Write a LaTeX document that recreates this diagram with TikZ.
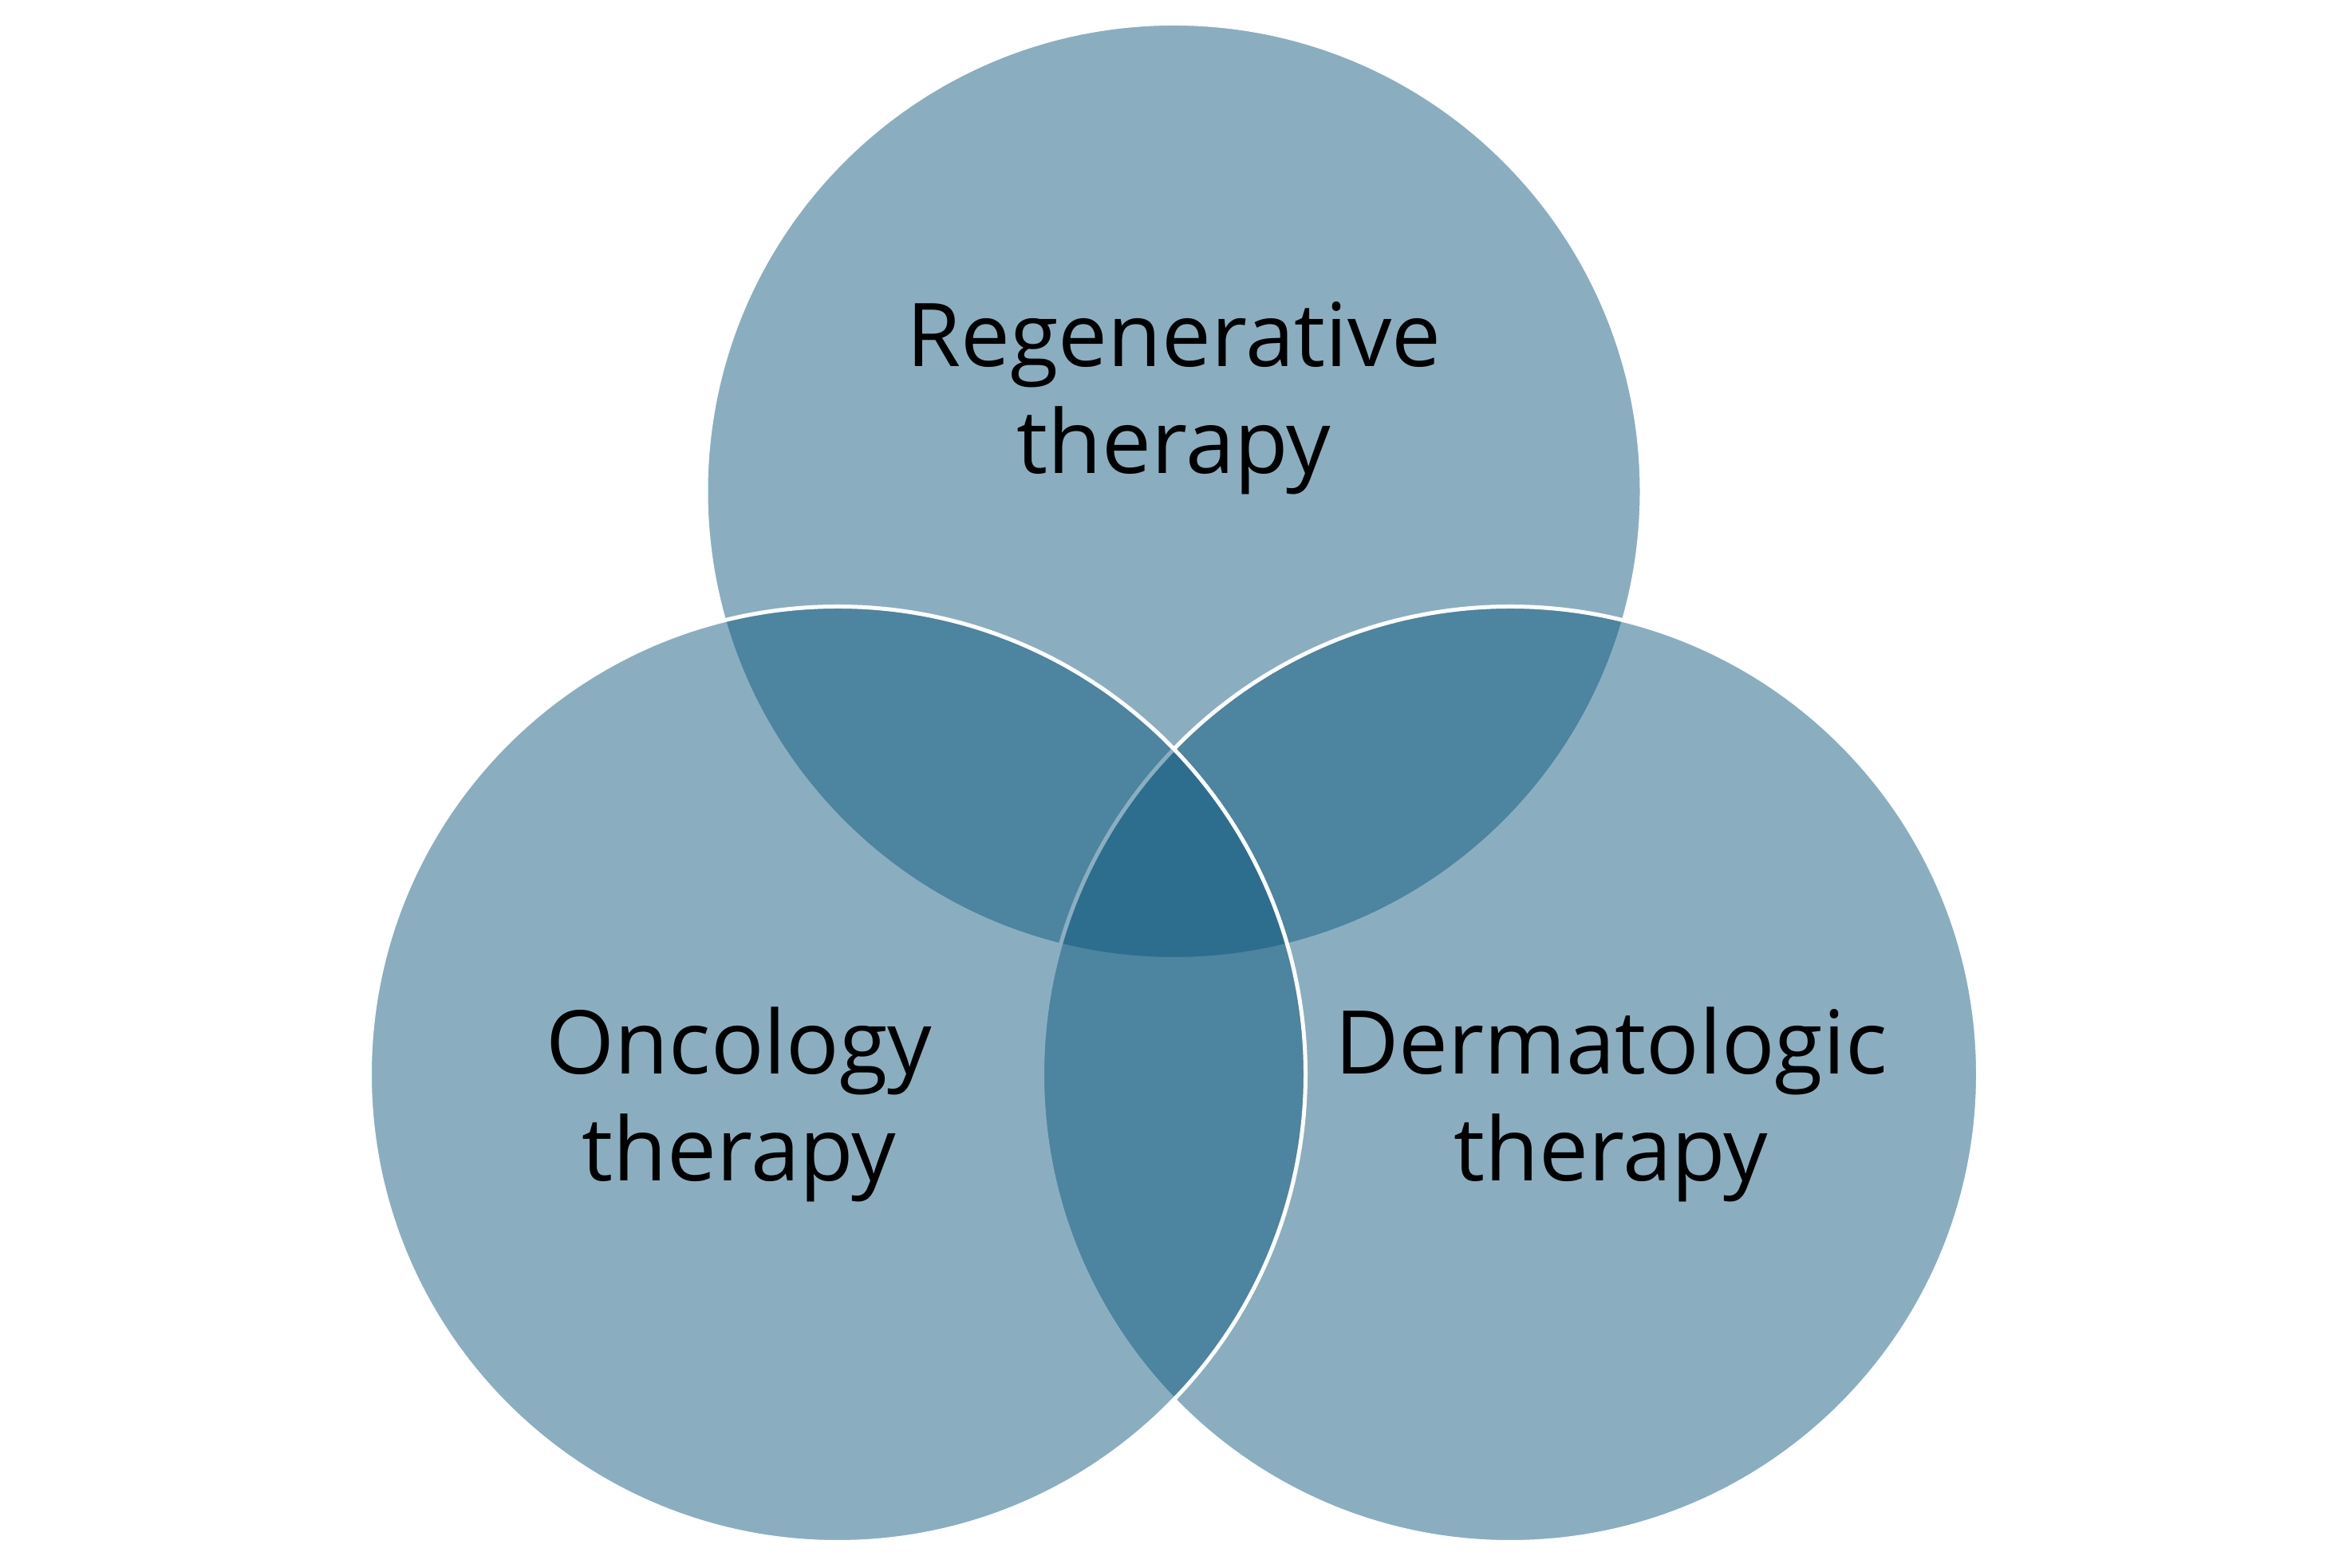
\documentclass[tikz,border=0pt]{standalone}
\usepackage{fontspec}
\setmainfont{Open Sans}
\definecolor{vennblue}{RGB}{10,86,124}
\begin{document}
\begin{tikzpicture}[x=1cm,y=1cm,
  venn/.style={circle, minimum size=11.73cm, inner sep=0pt, outer sep=0pt,
    fill=vennblue, fill opacity=0.474, draw=white, draw opacity=1, line width=0.05cm},
  lbl/.style={font=\fontsize{31.4}{38.2}\selectfont, align=center, text=black,
    anchor=base, inner sep=0pt}]
\useasboundingbox (0,0) rectangle (29.47,19.66);
\fill[white] (0,0) rectangle (29.47,19.66);
\node[venn] (regen) at (14.715,13.50) {};
\node[venn] (derm) at (18.93,6.19) {};
\node[venn] (onco) at (10.50,6.19) {};
\node[lbl] (regenlbl) at (14.716,13.72) {Regenerative\\therapy};
\node[lbl] (oncolbl) at (9.266,4.85) {Oncology\\therapy};
\node[lbl] (dermlbl) at (20.195,4.85) {Dermatologic\\therapy};
\end{tikzpicture}
\end{document}
